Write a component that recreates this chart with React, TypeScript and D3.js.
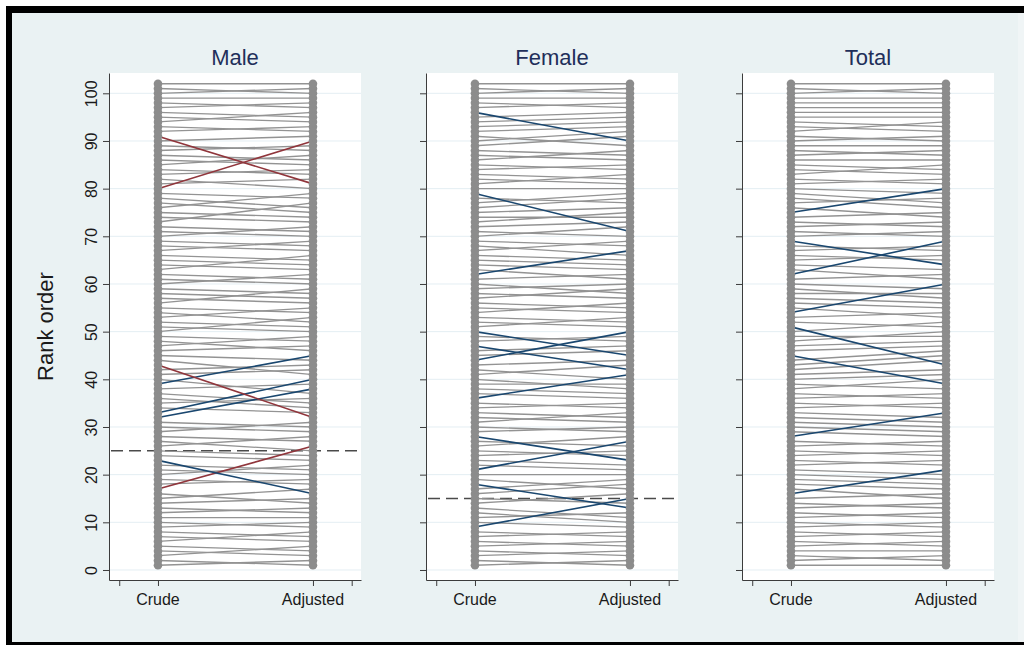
import React, { useEffect, useRef } from "react";
import * as d3 from "d3";

// adjusted rank for crude rank 1..102 (index 0 = crude rank 1)
const maleAdjusted = [
  2, 1, 5, 3, 4, 8, 6, 7, 10, 9, 11,
  13, 12, 15, 17, 14, 26, 19, 18, 22, 20, 21, 16, 23, 24, 28, 25, 27, 31, 29, 30,
  38, 40, 33, 36, 34, 35, 39, 45, 37, 42, 43, 32, 41, 44,
  47, 49, 46, 48, 53, 50, 51, 55, 52, 54, 59, 56, 57, 58, 62, 60, 61, 66, 63, 64, 65, 69, 67, 68, 72, 70, 71, 77, 73, 74, 79, 75, 76, 78,
  90, 82, 80, 84, 83, 87, 85, 86, 89, 88, 91, 81,
  93, 92, 96, 94, 95, 98, 97, 99, 101, 100, 102,
];
const femaleAdjusted = [
  2, 1, 4, 3, 6, 5, 8, 7, 15, 9, 12, 10, 11, 16, 14, 18, 19, 13, 17, 20,
  27, 21, 22, 25, 24, 28, 26, 23, 30, 29, 33, 31, 32, 35, 34,
  41, 36, 37, 39, 38, 43, 40, 44, 50, 46, 47, 42, 49, 48, 45, 53, 51, 52, 56, 54, 55, 59, 57, 60, 58,
  62, 67, 61, 63, 64, 65, 69, 66, 68, 72, 70, 73, 75, 74, 76, 78, 79, 77, 71, 80,
  83, 81, 82, 85, 84, 88, 86, 87, 91, 92, 89, 93, 94, 95, 96, 90, 98, 97, 99, 101, 100, 102,
];
const totalAdjusted = [
  1, 3, 2, 4, 6, 5, 8, 7, 10, 9, 12, 11,
  14, 13, 16, 21, 15, 17, 18, 19, 20, 23, 22, 25, 24, 27, 26, 33, 28, 29, 30, 31, 32, 35, 34,
  37, 36, 40, 38, 41, 42, 44, 45, 46, 39, 47, 48, 50, 49, 52, 43, 51, 54, 60, 53, 55, 56, 58, 57, 59,
  62, 69, 61, 63, 66, 65, 68, 67, 64, 71, 70, 73, 72, 75, 80, 74, 78, 76, 77, 79,
  82, 81, 85, 83, 84, 86, 88, 87, 89, 91, 90, 94, 92, 93, 95, 96, 97, 98, 99, 101, 100, 102,
];

// highlighted crude ranks
const maleRed = [91, 80, 43, 17];
const maleBlue = [39, 33, 32, 23];
const femaleBlue = [96, 79, 62, 50, 47, 44, 36, 28, 21, 18, 9];
const totalBlue = [75, 69, 62, 54, 51, 45, 28, 16];

const panelTitles = ["Male", "Female", "Total"];
const cutoffs = [25, 15, null];
const yTicks = [0, 10, 20, 30, 40, 50, 60, 70, 80, 90, 100];
const xTicks = [0.75, 1, 2, 2.25];
const xLabels = ["Crude", "Adjusted"];

const font = "'Liberation Sans', Arial, Helvetica, sans-serif";
const GRAY = "#939393";

export default function App() {
  const svgRef = useRef<SVGSVGElement>(null);

  useEffect(() => {
    const svg = d3.select(svgRef.current);
    svg.selectAll("*").remove();

    const W = 1024, H = 645;

    // outer frame
    svg.append("rect").attr("width", W).attr("height", H).attr("fill", "#fff");
    svg.append("rect").attr("x", 6).attr("y", 6).attr("width", W).attr("height", H).attr("fill", "#000");
    svg.append("rect").attr("x", 12).attr("y", 13).attr("width", W - 12).attr("height", 629).attr("fill", "#eaf2f3");
    svg.append("rect").attr("x", 1018).attr("y", 13).attr("width", 6).attr("height", 629).attr("fill", "#f0f5f6");

    const panels = [
      { adj: maleAdjusted, red: maleRed, blue: maleBlue },
      { adj: femaleAdjusted, red: [], blue: femaleBlue },
      { adj: totalAdjusted, red: [], blue: totalBlue },
    ];
    const panelLeft = [109, 426, 742];
    const plotW = 252;

    const y = d3.scaleLinear().domain([-2.1, 104.26]).range([580, 73]);

    panels.forEach((p, i) => {
      const left = panelLeft[i];
      const x = d3.scaleLinear().domain([0.684, 2.31]).range([left, left + plotW]);
      const g = svg.append("g");

      g.append("rect")
        .attr("x", left).attr("y", y(104.26))
        .attr("width", plotW).attr("height", y(-2.1) - y(104.26))
        .attr("fill", "#fff");

      // grid
      g.selectAll("line.grid")
        .data(yTicks)
        .enter()
        .append("line")
        .attr("x1", left).attr("x2", left + plotW)
        .attr("y1", d => y(d)).attr("y2", d => y(d))
        .attr("stroke", "#e4eef3")
        .attr("stroke-width", 1);

      // cutoff
      const c = cutoffs[i];
      if (c !== null) {
        g.append("line")
          .attr("x1", left + 2).attr("x2", left + plotW)
          .attr("y1", y(c)).attr("y2", y(c))
          .attr("stroke", "#4a4a4a")
          .attr("stroke-width", 1.5)
          .attr("stroke-dasharray", "12,6");
      }

      const rows = p.adj.map((a, k) => ({ crude: k + 1, adj: a }));
      const colorOf = (d) =>
        p.red.includes(d.crude) ? "#90353b" : p.blue.includes(d.crude) ? "#1a476f" : GRAY;

      const ordered = rows.slice().sort((a, b) => (colorOf(a) === GRAY ? 0 : 1) - (colorOf(b) === GRAY ? 0 : 1));

      g.selectAll("line.link")
        .data(ordered)
        .enter()
        .append("line")
        .attr("x1", x(1)).attr("x2", x(2))
        .attr("y1", d => y(d.crude)).attr("y2", d => y(d.adj))
        .attr("stroke", colorOf)
        .attr("stroke-width", d => (colorOf(d) === GRAY ? 1.35 : 1.6));

      // dots
      g.selectAll("circle.crude")
        .data(rows)
        .enter()
        .append("circle")
        .attr("cx", x(1)).attr("cy", d => y(d.crude))
        .attr("r", 4.3)
        .attr("fill", "#8c8c8c");
      g.selectAll("circle.adj")
        .data(rows)
        .enter()
        .append("circle")
        .attr("cx", x(2)).attr("cy", d => y(d.adj))
        .attr("r", 4.3)
        .attr("fill", "#8c8c8c");

      // y axis
      const ya = g.append("g")
        .attr("transform", `translate(${left},0)`)
        .call(d3.axisLeft(y).tickValues(yTicks).tickSize(6).tickSizeOuter(0));
      ya.select(".domain").attr("stroke", "#3c3c3c");
      ya.selectAll(".tick line").attr("stroke", "#3c3c3c");
      ya.selectAll(".tick text")
        .attr("transform", "rotate(-90)")
        .attr("x", 0).attr("y", -12).attr("dy", 0)
        .attr("text-anchor", "middle")
        .style("font-family", font)
        .style("font-size", "16px")
        .attr("fill", "#1a1a1a")
        .text(d => (i === 0 ? d : ""));

      // x axis
      const xa = g.append("g")
        .attr("transform", `translate(0,${y(-2.1)})`)
        .call(d3.axisBottom(x).tickValues(xTicks).tickSize(6).tickSizeOuter(0).tickFormat(() => ""));
      xa.select(".domain").attr("stroke", "#3c3c3c");
      xa.selectAll(".tick line").attr("stroke", "#3c3c3c");

      g.selectAll("text.xlab")
        .data(xLabels)
        .enter()
        .append("text")
        .attr("x", (d, k) => x(k + 1))
        .attr("y", 605)
        .attr("text-anchor", "middle")
        .style("font-family", font)
        .style("font-size", "16px")
        .attr("fill", "#1a1a1a")
        .text(d => d);

      g.append("text")
        .attr("x", left + plotW / 2)
        .attr("y", 65)
        .attr("text-anchor", "middle")
        .style("font-family", font)
        .style("font-size", "22px")
        .attr("fill", "#1f2f5a")
        .text(panelTitles[i]);
    });

    svg.append("text")
      .attr("transform", `translate(53,${(73 + 580) / 2}) rotate(-90)`)
      .attr("text-anchor", "middle")
      .style("font-family", font)
      .style("font-size", "22px")
      .attr("fill", "#1a1a1a")
      .text("Rank order");
  }, []);

  return (
    <svg
      ref={svgRef}
      width={1024}
      height={645}
      style={{ position: "absolute", left: 0, top: 0, display: "block" }}
    />
  );
}
